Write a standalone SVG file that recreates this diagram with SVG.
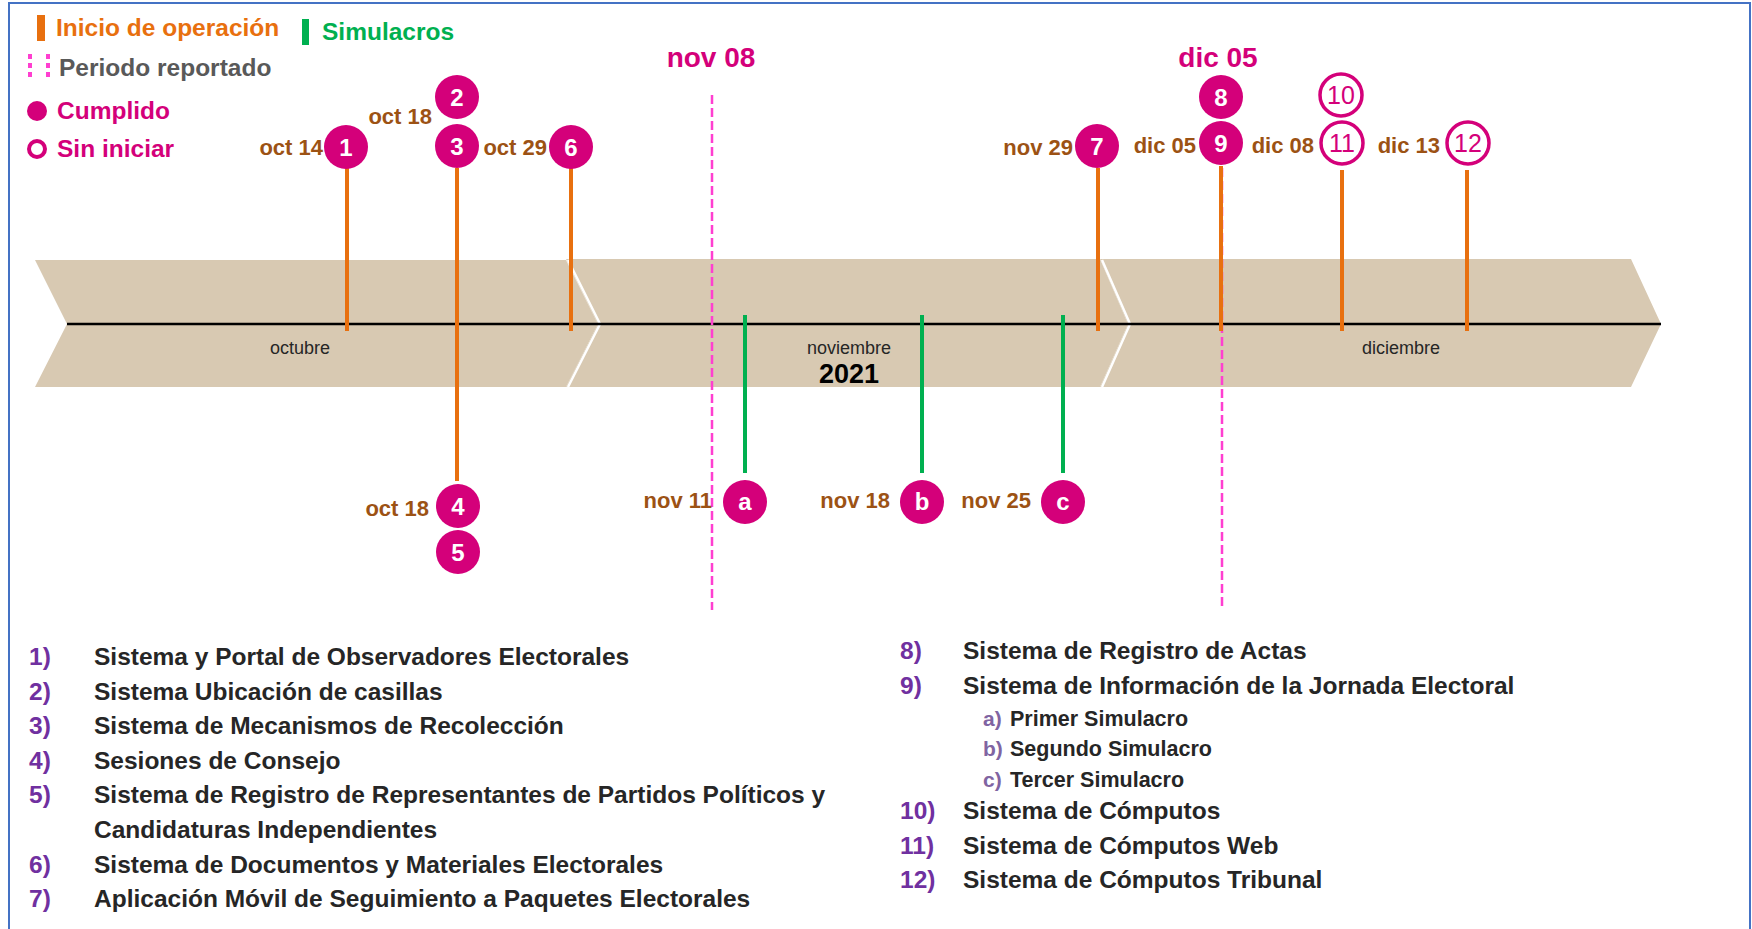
<svg xmlns="http://www.w3.org/2000/svg" width="1752" height="929" viewBox="0 0 1752 929">
<defs>
<style>
.lbl{font-family:"Liberation Sans",Arial,sans-serif;font-weight:bold;font-size:22px;fill:#9C5214;}
.hdr{font-family:"Liberation Sans",Arial,sans-serif;font-weight:bold;font-size:28px;fill:#D4007A;text-anchor:middle;}
.leg{font-family:"Liberation Sans",Arial,sans-serif;font-weight:bold;font-size:24.5px;}
.num{font-family:"Liberation Sans",Arial,sans-serif;font-weight:bold;font-size:24px;fill:#FFFFFF;text-anchor:middle;}
.numo{font-family:"Liberation Sans",Arial,sans-serif;font-size:25px;fill:#D4007A;text-anchor:middle;}
.dot{fill:#D4007A;}
.hol{fill:#FFFFFF;stroke:#D4007A;stroke-width:3.5;}
.org{stroke:#E8700F;stroke-width:4;fill:none;}
.grn{stroke:#00B050;stroke-width:4;fill:none;}
.dash{stroke:#FF3FD0;stroke-width:2.5;stroke-dasharray:9 4;fill:none;}
.band{fill:#D8C9B2;}
.joint{stroke:#FFFFFF;stroke-width:2.5;fill:none;}
.mon{font-family:"Liberation Sans",Arial,sans-serif;font-size:18px;fill:#262626;text-anchor:middle;}
.li{font-family:"Liberation Sans",Arial,sans-serif;font-weight:bold;font-size:24.5px;fill:#262626;}
.ln{font-family:"Liberation Sans",Arial,sans-serif;font-weight:bold;font-size:24.5px;fill:#7030A0;}
.si{font-family:"Liberation Sans",Arial,sans-serif;font-weight:bold;font-size:21.5px;fill:#262626;}
.sn{font-family:"Liberation Sans",Arial,sans-serif;font-weight:bold;font-size:21px;fill:#8064A2;}
</style>
</defs>
<rect x="0" y="0" width="1752" height="929" fill="#FFFFFF"/>
<rect x="9" y="3" width="1741" height="940" fill="none" stroke="#4472C4" stroke-width="2"/>

<g id="legend">
<rect x="37" y="15" width="8" height="26" fill="#E8700F"/>
<text class="leg" x="56" y="36" fill="#E8700F">Inicio de operación</text>
<rect x="302" y="19" width="7" height="26" fill="#00B050"/>
<text class="leg" x="322" y="40" fill="#00B050">Simulacros</text>
<line x1="30" y1="54" x2="30" y2="80" stroke="#FF3FD0" stroke-width="4" stroke-dasharray="5 4"/>
<line x1="48" y1="54" x2="48" y2="80" stroke="#FF3FD0" stroke-width="4" stroke-dasharray="5 4"/>
<text class="leg" x="59" y="76" fill="#595959">Periodo reportado</text>
<circle cx="37" cy="111" r="10" class="dot"/>
<text class="leg" x="57" y="119" fill="#D4007A">Cumplido</text>
<circle cx="37" cy="149" r="8" fill="#FFFFFF" stroke="#D4007A" stroke-width="4"/>
<text class="leg" x="57" y="157" fill="#D4007A">Sin iniciar</text>
</g>

<g id="timeline">
<polygon class="band" points="35,260 566,260 598,324 566,387 35,387 67,324"/>
<polygon class="band" points="566,259 1100,259 1128,324 1100,387 566,387 598,324"/>
<polygon class="band" points="1100,259 1631,259 1661,324 1631,387 1100,387 1128,324"/>
<polyline class="joint" points="568,260 600,324 568,387"/>
<polyline class="joint" points="1102,260 1130,324 1102,387"/>
<line x1="67" y1="324" x2="1661" y2="324" stroke="#000000" stroke-width="2.5"/>
<text class="mon" x="300" y="354">octubre</text>
<text class="mon" x="849" y="354">noviembre</text>
<text x="849" y="383" font-family="Liberation Sans, Arial, sans-serif" font-weight="bold" font-size="27" fill="#000000" text-anchor="middle">2021</text>
<text class="mon" x="1401" y="354">diciembre</text>
</g>

<g id="connectors">
<line class="dash" x1="712" y1="95" x2="712" y2="610"/>
<line class="dash" x1="1222" y1="168" x2="1222" y2="610"/>
<line class="org" x1="347" y1="168" x2="347" y2="331"/>
<line class="org" x1="457" y1="168" x2="457" y2="481"/>
<line class="org" x1="571" y1="168" x2="571" y2="331"/>
<line class="org" x1="1098" y1="168" x2="1098" y2="331"/>
<line class="org" x1="1221" y1="166" x2="1221" y2="331"/>
<line class="org" x1="1342" y1="170" x2="1342" y2="331"/>
<line class="org" x1="1467" y1="170" x2="1467" y2="331"/>
<line class="grn" x1="745" y1="315" x2="745" y2="473"/>
<line class="grn" x1="922" y1="315" x2="922" y2="473"/>
<line class="grn" x1="1063" y1="315" x2="1063" y2="473"/>
</g>

<g id="headers">
<text class="hdr" x="711" y="67">nov 08</text>
<text class="hdr" x="1218" y="67">dic 05</text>
</g>

<g id="n1"><text class="lbl" x="323" y="155" text-anchor="end">oct 14</text><circle cx="346" cy="147" r="22" class="dot"/><text class="num" x="346" y="156">1</text></g>
<g id="n2"><text class="lbl" x="432" y="124" text-anchor="end">oct 18</text><circle cx="457" cy="97" r="22" class="dot"/><text class="num" x="457" y="106">2</text></g>
<g id="n3"><circle cx="457" cy="146" r="22" class="dot"/><text class="num" x="457" y="155">3</text></g>
<g id="n6"><text class="lbl" x="547" y="155" text-anchor="end">oct 29</text><circle cx="571" cy="147" r="22" class="dot"/><text class="num" x="571" y="156">6</text></g>
<g id="n7"><text class="lbl" x="1073" y="155" text-anchor="end">nov 29</text><circle cx="1097" cy="146" r="22" class="dot"/><text class="num" x="1097" y="155">7</text></g>
<g id="n8"><circle cx="1221" cy="97" r="22" class="dot"/><text class="num" x="1221" y="106">8</text></g>
<g id="n9"><text class="lbl" x="1196" y="153" text-anchor="end">dic 05</text><circle cx="1221" cy="143" r="22" class="dot"/><text class="num" x="1221" y="152">9</text></g>
<g id="n10"><circle cx="1341" cy="95" r="21" class="hol"/><text class="numo" x="1341" y="104">10</text></g>
<g id="n11"><text class="lbl" x="1314" y="153" text-anchor="end">dic 08</text><circle cx="1342" cy="143" r="21" class="hol"/><text class="numo" x="1342" y="152">11</text></g>
<g id="n12"><text class="lbl" x="1440" y="153" text-anchor="end">dic 13</text><circle cx="1468" cy="143" r="21" class="hol"/><text class="numo" x="1468" y="152">12</text></g>
<g id="n4"><text class="lbl" x="429" y="516" text-anchor="end">oct 18</text><circle cx="458" cy="506" r="22" class="dot"/><text class="num" x="458" y="515">4</text></g>
<g id="n5"><circle cx="458" cy="552" r="22" class="dot"/><text class="num" x="458" y="561">5</text></g>
<g id="na"><text class="lbl" x="712" y="508" text-anchor="end">nov 11</text><circle cx="745" cy="502" r="22" class="dot"/><text class="num" x="745" y="510">a</text></g>
<g id="nb"><text class="lbl" x="890" y="508" text-anchor="end">nov 18</text><circle cx="922" cy="502" r="22" class="dot"/><text class="num" x="922" y="510">b</text></g>
<g id="nc"><text class="lbl" x="1031" y="508" text-anchor="end">nov 25</text><circle cx="1063" cy="502" r="22" class="dot"/><text class="num" x="1063" y="510">c</text></g>

<g id="list-left">
<text class="ln" x="29" y="665">1)</text><text class="li" x="94" y="665">Sistema y Portal de Observadores Electorales</text>
<text class="ln" x="29" y="700">2)</text><text class="li" x="94" y="700">Sistema Ubicación de casillas</text>
<text class="ln" x="29" y="734">3)</text><text class="li" x="94" y="734">Sistema de Mecanismos de Recolección</text>
<text class="ln" x="29" y="769">4)</text><text class="li" x="94" y="769">Sesiones de Consejo</text>
<text class="ln" x="29" y="803">5)</text><text class="li" x="94" y="803">Sistema de Registro de Representantes de Partidos Políticos y</text>
<text class="li" x="94" y="838">Candidaturas Independientes</text>
<text class="ln" x="29" y="873">6)</text><text class="li" x="94" y="873">Sistema de Documentos y Materiales Electorales</text>
<text class="ln" x="29" y="907">7)</text><text class="li" x="94" y="907">Aplicación Móvil de Seguimiento a Paquetes Electorales</text>
</g>

<g id="list-right">
<text class="ln" x="900" y="659">8)</text><text class="li" x="963" y="659">Sistema de Registro de Actas</text>
<text class="ln" x="900" y="694">9)</text><text class="li" x="963" y="694">Sistema de Información de la Jornada Electoral</text>
<text class="sn" x="983" y="726">a)</text><text class="si" x="1010" y="726">Primer Simulacro</text>
<text class="sn" x="983" y="756">b)</text><text class="si" x="1010" y="756">Segundo Simulacro</text>
<text class="sn" x="983" y="787">c)</text><text class="si" x="1010" y="787">Tercer Simulacro</text>
<text class="ln" x="900" y="819">10)</text><text class="li" x="963" y="819">Sistema de Cómputos</text>
<text class="ln" x="900" y="854">11)</text><text class="li" x="963" y="854">Sistema de Cómputos Web</text>
<text class="ln" x="900" y="888">12)</text><text class="li" x="963" y="888">Sistema de Cómputos Tribunal</text>
</g>
</svg>
